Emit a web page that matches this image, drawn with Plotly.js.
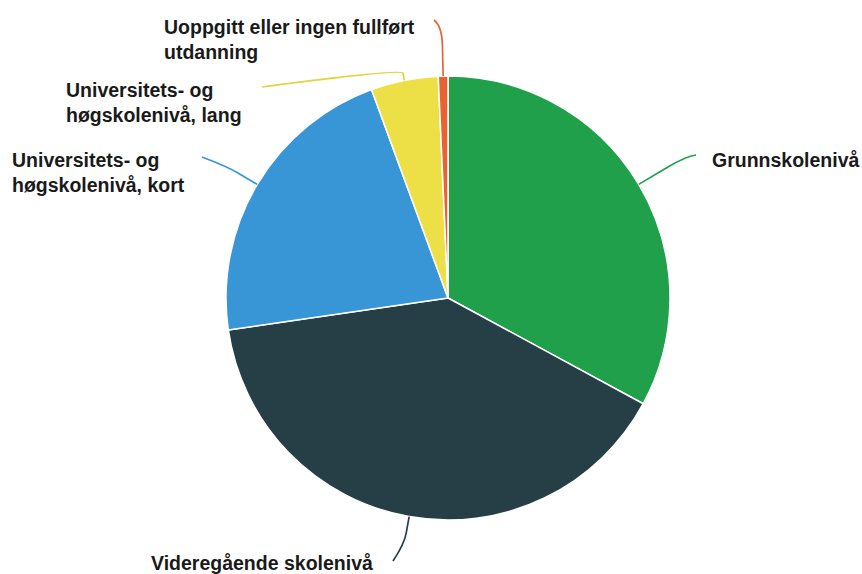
<!DOCTYPE html>
<html><head><meta charset="utf-8">
<script src="https://cdn.plot.ly/plotly-3.0.1.min.js"></script>
<style>html,body{margin:0;padding:0;background:#fff;}#chart{width:862px;height:574px;}</style>
</head><body><div id="chart"></div>
<script>
// ---- data ----
const labels = ["Grunnskolenivå", "Videregående skolenivå", "Universitets- og høgskolenivå, kort", "Universitets- og høgskolenivå, lang", "Uoppgitt eller ingen fullført utdanning"];
const labelText = ["Grunnskolenivå", "Videregående skolenivå", "Universitets- og<br>høgskolenivå, kort", "Universitets- og<br>høgskolenivå, lang", "Uoppgitt eller ingen fullført<br>utdanning"];
const values = [32.9, 39.8, 21.7, 4.9, 0.7];
const colors = ["#20a04b", "#263f47", "#3896d6", "#ede047", "#ea6234"];

// ---- layout (pixels) ----
const W = 862, H = 574, cx = 448, cy = 298, R = 222;
const labelPos = [[710, 160], [149, 563], [10, 172], [64, 103], [162, 39]];
const connEnd = [[696, 155], [393, 561], [202, 157], [262, 87], [434, 20]];
const bendDist = [55, 28, 35, 12, 50];
const lineColors = ["#20a04b", "#263f47", "#3896d6", "#e2d440", "#ea6234"];

const px = x => x / W, py = y => 1 - y / H;
const total = values.reduce((a, b) => a + b, 0);
let cum = 0;
const shapes = [], annotations = [];
values.forEach((v, i) => {
  const mid = (cum + v / 2) / total * 2 * Math.PI; cum += v;
  const s = Math.sin(mid), c = Math.cos(mid);
  const ax = cx + R * s, ay = cy - R * c;
  const bx = cx + (R + bendDist[i]) * s, by = cy - (R + bendDist[i]) * c;
  const lx = cx + (R + bendDist[i] * 0.6) * s, ly = cy - (R + bendDist[i] * 0.6) * c;
  const e = connEnd[i];
  shapes.push({type: "path", xref: "paper", yref: "paper",
    path: `M ${px(ax)} ${py(ay)} L ${px(lx)} ${py(ly)} Q ${px(bx)} ${py(by)} ${px(e[0])} ${py(e[1])}`,
    line: {color: lineColors[i], width: 1.7}});
  annotations.push({xref: "paper", yref: "paper", x: px(labelPos[i][0]), y: py(labelPos[i][1]),
    xanchor: "left", yanchor: "middle", align: "left", showarrow: false,
    text: labelText[i], font: {family: "Liberation Sans, Arial, sans-serif", size: 19.5, color: "#1a1a1a", weight: "bold"}});
});

const trace = {type: "pie", labels: labels, values: values, sort: false, direction: "clockwise", rotation: 0,
  marker: {colors: colors, line: {color: "#ffffff", width: 1.5}}, textinfo: "none", hoverinfo: "label+percent",
  domain: {x: [px(cx - R), px(cx + R)], y: [py(cy + R), py(cy - R)]}, showlegend: false};

Plotly.newPlot("chart", [trace], {width: W, height: H, margin: {l: 0, r: 0, t: 0, b: 0},
  paper_bgcolor: "#fff", showlegend: false, shapes: shapes, annotations: annotations}, {displayModeBar: false, staticPlot: true});
</script></body></html>
